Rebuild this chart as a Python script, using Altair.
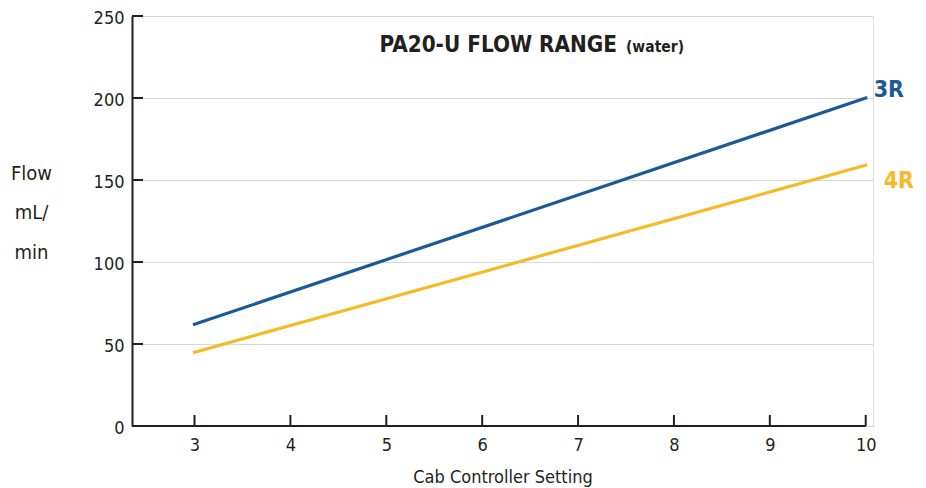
import altair as alt
import pandas as pd

# ---- data ----
settings = [3, 10]
flow_3r = [62, 200]
flow_4r = [45, 159]
series_names = ["3R", "4R"]
series_colors = ["#1c5a97", "#f7b924"]
x_ticks = [3, 4, 5, 6, 7, 8, 9, 10]
y_ticks = [0, 50, 100, 150, 200, 250]
title_main = "PA20-U FLOW RANGE"
title_sub = "(water)"
x_title = "Cab Controller Setting"
y_title = ["Flow", "mL/", "min"]

X_MIN, X_MAX = 2.348, 10.076
Y_MIN, Y_MAX = 0, 250
W, H = 741, 410

NARROW = "DejaVu Sans Condensed, DejaVu Sans, sans-serif"
INK = "#231f20"

rows = []
for s, vals in zip(series_names, [flow_3r, flow_4r]):
    for x, v in zip(settings, vals):
        rows.append({"series": s, "setting": x, "flow": v})
df = pd.DataFrame(rows)
ends = df[df["setting"] == settings[-1]]

xs = alt.Scale(domain=[X_MIN, X_MAX], nice=False, zero=False)
ys = alt.Scale(domain=[Y_MIN, Y_MAX], nice=False, zero=True)
cs = alt.Scale(domain=series_names, range=series_colors)

base = alt.Chart(df)

lines = base.mark_line(strokeWidth=3.2, strokeCap="square").encode(
    x=alt.X(
        "setting:Q",
        scale=xs,
        axis=alt.Axis(
            values=x_ticks,
            format="d",
            domain=False,
            ticks=False,
            tickSize=0,
            grid=False,
            labelFont=NARROW,
            labelFontSize=18,
            labelColor=INK,
            labelPadding=10,
            title=x_title,
            titleFont=NARROW,
            titleFontSize=18,
            titleFontWeight="normal",
            titleColor=INK,
            titleBaseline="alphabetic",
            titleY=56,
        ),
    ),
    y=alt.Y(
        "flow:Q",
        scale=ys,
        axis=alt.Axis(
            values=y_ticks,
            format="d",
            domain=True,
            domainColor=INK,
            domainWidth=2,
            ticks=False,
            tickSize=0,
            grid=True,
            gridColor="#d6d6d6",
            gridWidth=1,
            labelFont=NARROW,
            labelFontSize=18,
            labelColor=INK,
            labelPadding=8,
            labelOffset=2,
            title=y_title,
            titleAngle=0,
            titleFont=NARROW,
            titleFontSize=20,
            titleFontWeight="normal",
            titleColor=INK,
            titleAlign="center",
            titleBaseline="middle",
            titleLineHeight=39.5,
            titleX=-101,
            titleY=157,
        ),
    ),
    color=alt.Color("series:N", scale=cs, legend=None),
)

ytick_df = pd.DataFrame({"v": y_ticks})
xtick_df = pd.DataFrame({"v": x_ticks})

y_tick_marks = alt.Chart(ytick_df).mark_rule(color=INK, strokeWidth=2).encode(
    y=alt.Y("v:Q", scale=ys), x=alt.value(0), x2=alt.value(11)
)
x_tick_marks = alt.Chart(xtick_df).mark_rule(color=INK, strokeWidth=2).encode(
    x=alt.X("v:Q", scale=xs), y=alt.value(H), y2=alt.value(H - 11)
)
x_axis_line = alt.Chart(pd.DataFrame({"a": [0]})).mark_rule(color=INK, strokeWidth=2.2).encode(
    x=alt.datum(X_MIN, scale=xs), x2=alt.datum(x_ticks[-1]), y=alt.datum(0, scale=ys)
)

lab3 = alt.Chart(ends[ends["series"] == "3R"]).mark_text(
    font=NARROW, fontSize=23, fontWeight="bold", align="left", baseline="alphabetic", dx=8, dy=-1
).encode(
    x=alt.X("setting:Q", scale=xs), y=alt.Y("flow:Q", scale=ys),
    text="series:N", color=alt.Color("series:N", scale=cs, legend=None),
)
lab4 = alt.Chart(ends[ends["series"] == "4R"]).mark_text(
    font=NARROW, fontSize=23, fontWeight="bold", align="left", baseline="alphabetic", dx=18, dy=23
).encode(
    x=alt.X("setting:Q", scale=xs), y=alt.Y("flow:Q", scale=ys),
    text="series:N", color=alt.Color("series:N", scale=cs, legend=None),
)

t_main = alt.Chart(pd.DataFrame({"t": [title_main]})).mark_text(
    font=NARROW, fontSize=22.3, fontWeight="bold", align="right", baseline="alphabetic", color=INK
).encode(text="t:N", x=alt.value(485), y=alt.value(36))
t_sub = alt.Chart(pd.DataFrame({"t": [title_sub]})).mark_text(
    font=NARROW, fontSize=15.5, fontWeight="bold", align="left", baseline="alphabetic", color=INK
).encode(text="t:N", x=alt.value(494), y=alt.value(36))

chart = alt.layer(
    lines, y_tick_marks, x_tick_marks, x_axis_line, lab3, lab4, t_main, t_sub
).properties(
    width=W,
    height=H,
    autosize=alt.AutoSizeParams(type="none"),
    padding={"left": 124, "top": 8, "right": 45, "bottom": 62},
).configure_view(stroke=None).configure(background="white")

chart.save("out.html", embed_options={"renderer": "svg", "actions": False})
